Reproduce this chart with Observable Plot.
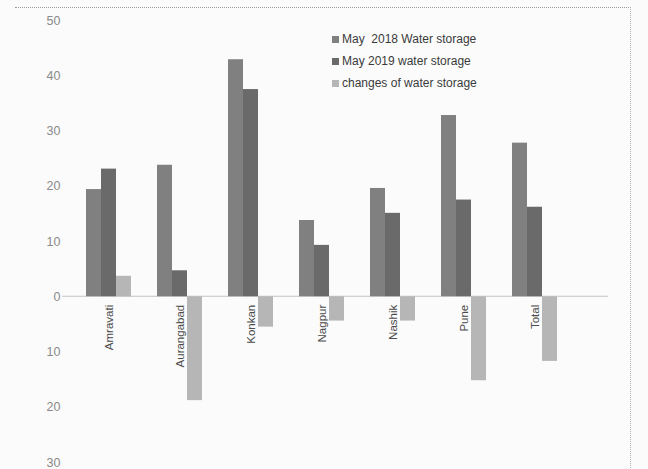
<!DOCTYPE html>
<html>
<head>
<meta charset="utf-8">
<script src="https://cdn.jsdelivr.net/npm/d3@7"></script>
<script src="https://cdn.jsdelivr.net/npm/@observablehq/plot@0.6"></script>
<style>
  html, body { margin: 0; padding: 0; background: #fbfbfb; }
  #wrap { position: relative; width: 648px; height: 469px; overflow: hidden; }
  #frame { position: absolute; left: 15px; top: 7px; width: 615px; height: 470px;
           border-top: 1px dotted #9a9a9a; border-right: 1px dotted #b0b0b0; pointer-events: none; }
  #legend { position: absolute; left: 332px; top: 28px; font-family: "Liberation Sans Narrow", "Liberation Sans", sans-serif;
            font-size: 12px; color: #3a3a3a; line-height: 22px; }
  #legend .item { display: flex; align-items: center; white-space: pre; }
  #legend .sw { width: 7px; height: 7px; margin-right: 3px; display: inline-block; }
</style>
</head>
<body>
<div id="wrap">
  <div id="chart"></div>
  <div id="frame"></div>
  <div id="legend"></div>
</div>
<script>
const regions = ["Amravati", "Aurangabad", "Konkan", "Nagpur", "Nashik", "Pune", "Total"];
const seriesNames = ["May  2018 Water storage", "May 2019 water storage", "changes of water storage"];
const may2018 = [19.4, 23.8, 42.9, 13.8, 19.6, 32.8, 27.8];
const may2019 = [23.1, 4.7, 37.5, 9.3, 15.1, 17.5, 16.2];
const changes = [3.7, -18.8, -5.5, -4.4, -4.4, -15.2, -11.7];
const yTicks = [-30, -20, -10, 0, 10, 20, 30, 40, 50];
const colors = ["#808080", "#6a6a6a", "#b6b6b6"];

const seriesValues = [may2018, may2019, changes];
const rows = regions.flatMap((r, i) => seriesNames.map((s, j) => ({region: r, series: s, value: seriesValues[j][i]})));
const labelRows = regions.map(r => ({region: r, value: 0}));

const ML = 62;
function makePlot(axisShift) {
  return Plot.plot({
    width: 648,
    height: 469,
    marginTop: 20,
    marginBottom: 7,
    marginLeft: ML,
    marginRight: 66,
    style: {background: "transparent", fontFamily: "\"Liberation Sans Narrow\", \"Liberation Sans\", sans-serif"},
    fx: {domain: regions, paddingInner: 0.36, paddingOuter: 0.3, axis: null},
    x: {domain: seriesNames, padding: 0, axis: null},
    y: {domain: [-30, 50], axis: null},
    color: {domain: seriesNames, range: colors},
    marks: [
      Plot.axisY({ticks: yTicks, tickSize: 0, tickPadding: 2, tickFormat: d => String(Math.abs(d)),
                  fill: "#8a8a8a", fontSize: 12.5, label: null, facetAnchor: "left", dx: -axisShift}),
      Plot.barY(rows, {fx: "region", x: "series", y: "value", fill: "series", inset: 0}),
      Plot.text(labelRows, {fx: "region", y: "value", text: "region", rotate: -90, textAnchor: "end",
                            dy: 8, fill: "#4a4a4a", fontSize: 11.5, fontFamily: "\"Liberation Sans\", Arial, sans-serif"})
    ]
  });
}
// first pass: find where the first facet starts, so the y axis can sit at the frame's left edge
const probe = makePlot(0);
const shift = probe.scale("fx").apply(regions[0]) - ML;
const plot = makePlot(shift);
document.getElementById("chart").appendChild(plot);

// zero baseline across the full frame, positioned with the plot's own y scale
const y0 = plot.scale("y").apply(0);
d3.select(plot).insert("line", ":first-child")
  .attr("x1", ML).attr("x2", 648 - 40)
  .attr("y1", y0).attr("y2", y0)
  .attr("stroke", "#c4c4c4").attr("stroke-width", 1);

const legend = d3.select("#legend");
seriesNames.forEach((s, j) => {
  const item = legend.append("div").attr("class", "item");
  item.append("span").attr("class", "sw").style("background", colors[j]);
  item.append("span").text(s);
});
</script>
</body>
</html>
